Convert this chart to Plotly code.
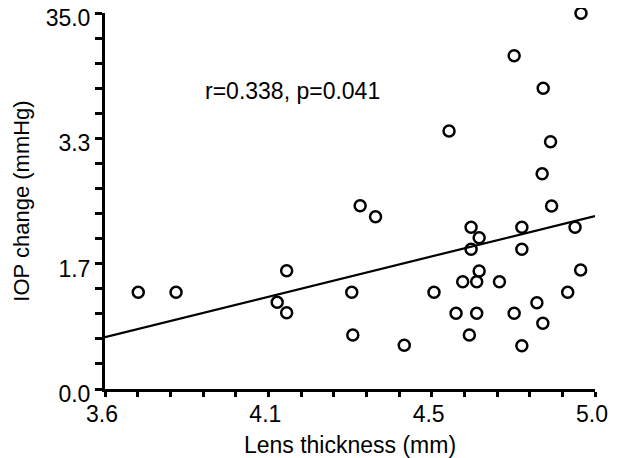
import plotly.graph_objects as go

# Data
lens_thickness = [3.695, 3.803, 4.092, 4.119, 4.119, 4.305, 4.308, 4.329, 4.373, 4.455,
                  4.540, 4.583, 4.603, 4.622, 4.641, 4.646, 4.646, 4.662, 4.662, 4.669,
                  4.669, 4.727, 4.769, 4.769, 4.791, 4.791, 4.791, 4.834, 4.851, 4.852,
                  4.849, 4.873, 4.876, 4.922, 4.943, 4.959, 4.960]
iop_change = [1.286, 1.286, 1.153, 1.573, 1.015, 1.286, 0.718, 2.438, 2.291, 0.581,
              1.286, 3.431, 1.007, 1.427, 0.718, 2.150, 1.858, 1.427, 1.007, 2.012,
              1.569, 1.427, 4.432, 1.007, 2.150, 1.858, 0.576, 1.148, 0.874, 3.999,
              2.863, 3.289, 2.434, 1.286, 2.150, 1.582, 4.996]

fit_x = [3.6, 5.0]
fit_y = [0.69, 2.30]

x_tickvals = [3.6, 3.6 + 1.4 / 3, 3.6 + 2.8 / 3, 5.0]
x_ticktext = ["3.6", "4.1", "4.5", "5.0"]
y_tickvals = [0, 5 / 3, 10 / 3, 5]
y_ticktext = ["0.0", "1.7", "3.3", "35.0"]

annotation_text = "r=0.338, p=0.041"

FONT = "Arial, Liberation Sans, sans-serif"

fig = go.Figure()
fig.add_trace(go.Scatter(
    x=fit_x, y=fit_y, mode="lines",
    line=dict(color="black", width=2.2), showlegend=False, hoverinfo="skip",
    cliponaxis=False))
fig.add_trace(go.Scatter(
    x=lens_thickness, y=iop_change, mode="markers",
    marker=dict(symbol="circle-open", size=11, color="black",
                line=dict(color="black", width=2.5)),
    showlegend=False, cliponaxis=False))

fig.add_annotation(x=4.137, y=3.96, text=annotation_text, showarrow=False,
                   font=dict(family=FONT, size=23, color="black"),
                   xanchor="center", yanchor="middle")

fig.update_xaxes(
    range=[3.6, 5.0], showgrid=False, zeroline=False, automargin=False,
    showline=True, linecolor="black", linewidth=3,
    tickmode="array", tickvals=x_tickvals, ticktext=x_ticktext,
    ticks="outside", ticklen=5, tickwidth=2.5, tickcolor="black",
    minor=dict(ticks="outside", ticklen=5, tickwidth=2.5, tickcolor="black",
               tick0=3.6, dtick=1.4 / 15, showgrid=False),
    tickfont=dict(family=FONT, size=23, color="black"),
    ticklabelshift=-3, ticklabelstandoff=-3, ticklabeloverflow="allow",
    title=dict(text="Lens thickness (mm)", font=dict(family=FONT, size=23, color="black"),
               standoff=12),
)
fig.update_yaxes(
    range=[0, 5], showgrid=False, zeroline=False, automargin=False,
    showline=True, linecolor="black", linewidth=3,
    tickmode="array", tickvals=y_tickvals, ticktext=y_ticktext,
    ticks="outside", ticklen=7, tickwidth=2.5, tickcolor="black",
    minor=dict(ticks="outside", ticklen=7, tickwidth=2.5, tickcolor="black",
               tick0=0, dtick=1 / 3, showgrid=False),
    tickfont=dict(family=FONT, size=23, color="black"),
    ticklabelstandoff=0, ticklabelshift=5, ticklabeloverflow="allow",
    title=dict(text="IOP change (mmHg)", font=dict(family=FONT, size=22, color="black"),
               standoff=10),
)

fig.update_layout(
    width=611, height=450,
    margin=dict(l=97, r=24, t=5, b=69),
    plot_bgcolor="white", paper_bgcolor="white",
)

fig.write_html("out.html")
